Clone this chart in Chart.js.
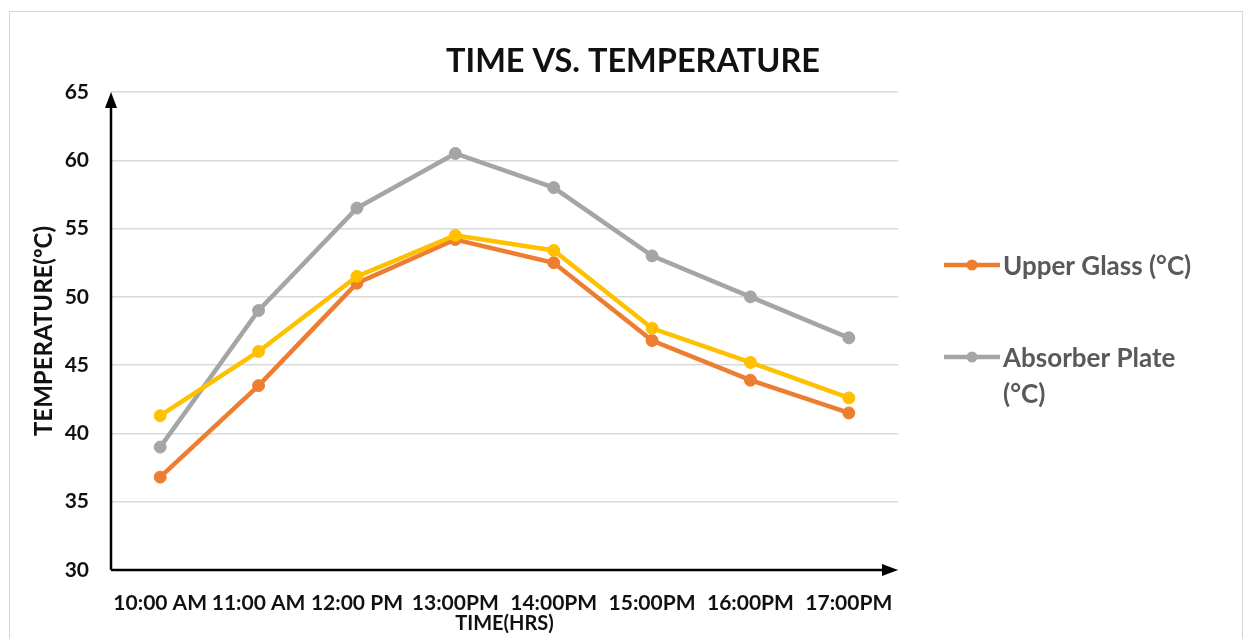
<!DOCTYPE html>
<html>
<head>
<meta charset="utf-8">
<script src="https://cdn.jsdelivr.net/npm/chart.js@4"></script>
<style>
    html, body { margin: 0; padding: 0; background: #fff; }
    #frame {
        position: absolute; left: 9px; top: 11px; width: 1232px; height: 640px;
        border: 1px solid #d6d6d6; border-bottom: none;
    }
    #chart { position: absolute; left: 0; top: 0; }
</style>
</head>
<body>
<div id="frame"></div>
<canvas id="chart" width="1245" height="639"></canvas>
<script>
// Data
const timeLabels = ['10:00 AM', '11:00 AM', '12:00 PM', '13:00PM', '14:00PM', '15:00PM', '16:00PM', '17:00PM'];
const upperGlass = [36.8, 43.5, 51, 54.2, 52.5, 46.8, 43.9, 41.5];
const absorberPlate = [39, 49, 56.5, 60.5, 58, 53, 50, 47];
const thirdSeries = [41.3, 46, 51.5, 54.5, 53.4, 47.7, 45.2, 42.6];
const yTicks = [30, 35, 40, 45, 50, 55, 60, 65];

const FONT = 'Lato, "Open Sans", sans-serif';

// Title, axis arrows and legend drawn on top of the chart
const decorPlugin = {
    id: 'decor',
    afterDraw(chart) {
        const ctx = chart.ctx;
        const area = chart.chartArea;
        ctx.save();

        // axes with arrow heads
        ctx.strokeStyle = '#000';
        ctx.fillStyle = '#000';
        ctx.lineWidth = 2.5;
        ctx.beginPath();
        ctx.moveTo(area.left, area.bottom);
        ctx.lineTo(area.left, area.top + 12);
        ctx.moveTo(area.left, area.bottom);
        ctx.lineTo(area.right - 12, area.bottom);
        ctx.stroke();
        ctx.beginPath();
        ctx.moveTo(area.left, area.top);
        ctx.lineTo(area.left - 6, area.top + 16);
        ctx.lineTo(area.left + 6, area.top + 16);
        ctx.closePath();
        ctx.fill();
        ctx.beginPath();
        ctx.moveTo(area.right, area.bottom);
        ctx.lineTo(area.right - 16, area.bottom - 6);
        ctx.lineTo(area.right - 16, area.bottom + 6);
        ctx.closePath();
        ctx.fill();

        // title, centred on the whole picture
        ctx.font = 'bold 32.5px ' + FONT;
        ctx.textAlign = 'center';
        ctx.textBaseline = 'middle';
        ctx.fillStyle = '#111';
        ctx.fillText('TIME VS. TEMPERATURE', 633, 62);

        // legend
        const legendRows = [
            { ds: 0, lines: ['Upper Glass (°C)'], y: 265 },
            { ds: 1, lines: ['Absorber Plate', '(°C)'], y: 357 }
        ];
        ctx.font = 'bold 26px ' + FONT;
        ctx.textAlign = 'left';
        legendRows.forEach(row => {
            const ds = chart.data.datasets[row.ds];
            ctx.strokeStyle = ds.borderColor;
            ctx.fillStyle = ds.borderColor;
            ctx.lineWidth = 4.5;
            ctx.beginPath();
            ctx.moveTo(944, row.y);
            ctx.lineTo(1000, row.y);
            ctx.stroke();
            ctx.beginPath();
            ctx.arc(972, row.y, 5.5, 0, Math.PI * 2);
            ctx.fill();
            ctx.fillStyle = '#595959';
            row.lines.forEach((t, i) => ctx.fillText(t, 1003, row.y + 2 + i * 36));
        });
        ctx.restore();
    }
};

const ctx = document.getElementById('chart').getContext('2d');
const chart = new Chart(ctx, {
    type: 'line',
    data: {
        labels: timeLabels,
        datasets: [
            {
                label: 'Upper Glass (°C)',
                data: upperGlass,
                borderColor: '#ED7D31',
                backgroundColor: '#ED7D31',
                order: 2
            },
            {
                label: 'Absorber Plate (°C)',
                data: absorberPlate,
                borderColor: '#A5A5A5',
                backgroundColor: '#A5A5A5',
                order: 1
            },
            {
                label: 'Series 3',
                data: thirdSeries,
                borderColor: '#FFC000',
                backgroundColor: '#FFC000',
                order: 0
            }
        ]
    },
    options: {
        responsive: false,
        animation: false,
        layout: {
            padding: { left: 28, right: 347, top: 92, bottom: 3 }
        },
        elements: {
            line: { borderWidth: 4.5, tension: 0 },
            point: { radius: 6, borderWidth: 1 }
        },
        plugins: {
            legend: { display: false },
            title: { display: false },
            tooltip: { enabled: false }
        },
        scales: {
            x: {
                offset: true,
                grid: { display: false, drawTicks: false },
                border: { display: false },
                ticks: {
                    padding: 21,
                    maxRotation: 0,
                    autoSkip: false,
                    color: '#111',
                    font: { family: FONT, size: 21, weight: 'bold' }
                },
                title: {
                    display: true,
                    text: 'TIME(HRS)',
                    color: '#111',
                    padding: 0,
                    font: { family: FONT, size: 20, weight: 'bold' }
                },
                afterFit: (scale) => { scale.height = 66; }
            },
            y: {
                min: 30,
                max: 65,
                afterBuildTicks: (scale) => { scale.ticks = yTicks.map(v => ({ value: v })); },
                grid: { color: '#d9d9d9', lineWidth: 1.5, drawTicks: false },
                border: { display: false },
                ticks: {
                    padding: 22,
                    color: '#111',
                    font: { family: FONT, size: 21, weight: 'bold' }
                },
                title: {
                    display: true,
                    text: 'TEMPERATURE(ºC)',
                    color: '#111',
                    padding: 2,
                    font: { family: FONT, size: 24, weight: 'bold' }
                },
                afterFit: (scale) => { scale.width = 83; }
            }
        }
    },
    plugins: [decorPlugin]
});
</script>
</body>
</html>
